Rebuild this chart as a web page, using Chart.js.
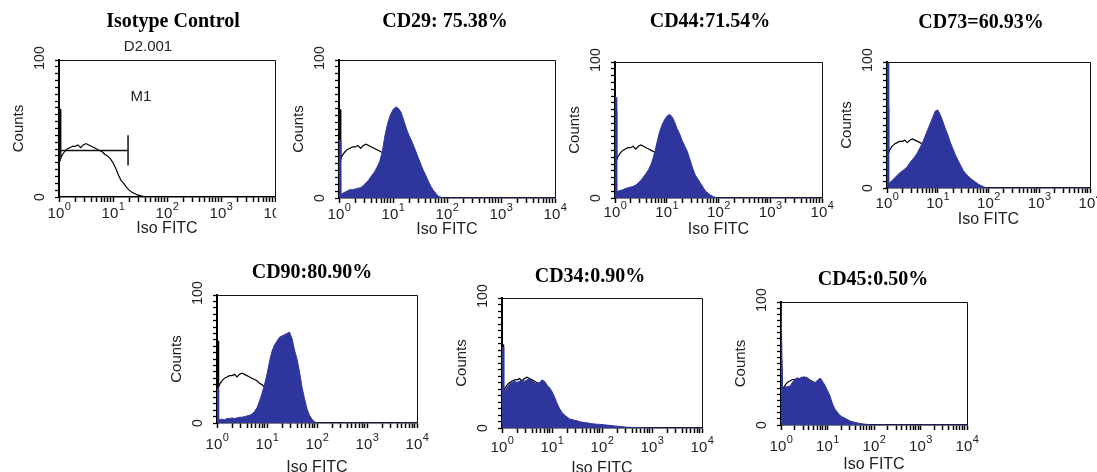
<!DOCTYPE html>
<html>
<head>
<meta charset="utf-8">
<script src="https://cdn.jsdelivr.net/npm/chart.js@4.4.0/dist/chart.umd.min.js"></script>
<style>
    body { margin: 0; background: #fff; width: 1097px; height: 472px; position: relative; overflow: hidden; }
    canvas { position: absolute; }
</style>
</head>
<body>
<script>
// FITC channel bins: the first channel (10^0 .. 1.05), then every 0.05 decade up to 10^2, then the tail
const fitcBins = [1, 1.05, 1.08,
    1.122, 1.259, 1.413, 1.585, 1.778, 1.995, 2.239, 2.512, 2.818, 3.162,
    3.548, 3.981, 4.467, 5.012, 5.623, 6.310, 7.079, 7.943, 8.913, 10,
    11.22, 12.59, 14.13, 15.85, 17.78, 19.95, 22.39, 25.12, 28.18, 31.62,
    35.48, 39.81, 44.67, 50.12, 56.23, 63.10, 70.79, 79.43, 89.13, 100,
    178, 316, 1000, 10000];

// isotype control (black outline, shared by all panels)
const isotype = [64, 64, 28,
    30, 33, 35, 36, 37, 37, 38, 36, 38, 39, 38, 37, 36, 35, 34, 33, 31, 30, 28, 25,
    21, 16, 12, 10, 7, 5, 3.5, 2.5, 1.5, 1, 0.5, 0, 0, 0, 0, 0, 0, 0, 0, 0,
    0, 0, 0, 0];

// stained samples (blue filled)
const cd29 = [42, 42, 2,
    3, 4, 5, 6, 6, 6.5, 7, 7.5, 9, 11, 13, 16, 18.5, 22, 26, 33, 45, 54, 60, 64,
    66, 65, 62, 56, 50, 45, 41, 36, 31, 26, 21, 17, 12.5, 8.5, 5.5, 3, 1, 0.4, 0, 0,
    0, 0, 0, 0];
const cd44 = [74, 74, 4,
    5, 5.5, 6, 7, 7.5, 8, 8.5, 9.5, 11, 13, 15.5, 18, 21, 25, 31, 39, 47, 53, 57, 60,
    61.5, 60, 56, 51, 47, 42, 38, 34, 28, 22, 17, 14, 11, 8, 5, 3.5, 2, 1, 0.3, 0,
    0, 0, 0, 0];
const cd73 = [100, 100, 3,
    4, 6, 8, 10, 12, 13.5, 15, 17, 20, 22.5, 25, 28, 32, 36, 41, 46, 51, 56, 61, 62,
    58, 53, 47, 42, 36, 31, 26, 22, 18, 14, 11.5, 9.5, 7.5, 6, 4.5, 3, 2, 1, 0.3, 0,
    0, 0, 0, 0];
const cd90 = [27, 27, 2,
    2.5, 3, 2.5, 3.5, 3.5, 4, 3.5, 4, 4.5, 4.5, 5, 5.5, 6, 7, 9, 12, 17, 23, 30, 38,
    48, 56, 61, 64, 67, 68, 69, 70, 71, 66, 57, 50, 40, 28, 19, 11, 6, 3, 1, 0,
    0, 0, 0, 0];
const cd34 = [62, 62, 27,
    28, 31, 34, 35, 36, 35, 36, 37, 36, 37, 38, 36, 35, 34, 35, 37, 36, 33, 31, 28,
    24, 19, 15, 12, 10, 8.5, 7, 6.5, 6, 5.5, 5, 4.5, 4.2, 4, 3.6, 3.3, 3.1, 2.9, 2.8, 2.6,
    1.6, 0.6, 0, 0];
const cd45 = [100, 100, 29,
    30, 31, 31, 32, 35, 37, 38, 38, 39, 38, 39, 37, 35, 34, 35, 37, 38, 35, 32, 28,
    24, 18, 13.5, 11, 8.5, 7, 6, 5, 4, 3, 2.5, 2, 1.6, 1.3, 1, 0.7, 0.5, 0.3, 0, 0,
    0, 0, 0, 0];

const panelTitles = ['Isotype Control', 'CD29: 75.38%', 'CD44:71.54%', 'CD73=60.93%',
    'CD90:80.90%', 'CD34:0.90%', 'CD45:0.50%'];
const panelSeries = [null, cd29, cd44, cd73, cd90, cd34, cd45];

// axis ticks
const decadeValues = [1, 10, 100, 1000, 10000];
const decadeExps = ['0', '1', '2', '3', '4'];
const minorSteps = [2, 3, 4, 5, 6, 7, 8, 9];
const countTicks = [0, 100];

// M1 marker of the isotype panel
const m1Range = [1, 19];
const m1Count = 34;
const m1Cap = [23, 45];

// plot boxes on the page: [left, top, right, bottom]
const panelLayout = [
    { box: [59, 60, 275, 197], clipRight: 276, titleAt: [173, 22], tickDy: 17, labelDy: 32 },
    { box: [339, 60, 555, 198], titleAt: [445, 22], tickDy: 17, labelDy: 32 },
    { box: [615, 62, 822, 198], titleAt: [710, 22], tickDy: 15, labelDy: 32 },
    { box: [887, 62, 1090, 188], titleAt: [981, 23], tickDy: 16, labelDy: 32 },
    { box: [217, 295, 417, 423], titleAt: [312, 273], tickDy: 22, labelDy: 45 },
    { box: [502, 298, 702, 428], titleAt: [590, 277], tickDy: 20, labelDy: 41 },
    { box: [781, 302, 967, 425], titleAt: [873, 280], tickDy: 22, labelDy: 40 }
];

const SANS = '"Liberation Sans", Arial, sans-serif';
const SERIF = '"Liberation Serif", "Times New Roman", serif';
const BLUE = 'rgb(46, 54, 158)';
const LEFT_SPACE = 60, TOP_SPACE = 60;

const xTicks = [];
decadeValues.forEach((d, i) => {
    xTicks.push(d);
    if (i < decadeValues.length - 1) minorSteps.forEach(m => xTicks.push(d * m));
});

function toPoints(values) {
    return values.map((v, i) => ({ x: fitcBins[i], y: v }));
}

// draws the frame, tick labels, titles and the panel notes
function makeDecor(idx, canvasLeft, canvasTop, layout) {
    return {
        id: 'facsDecor' + idx,
        afterDraw(chart) {
            const { ctx, chartArea: a, scales } = chart;
            const xs = scales.x, ys = scales.y;
            ctx.save();

            ctx.strokeStyle = '#111';
            ctx.lineWidth = 1;
            ctx.beginPath();
            ctx.moveTo(a.left, a.top + 0.5);
            ctx.lineTo(a.right + 0.5, a.top + 0.5);
            ctx.lineTo(a.right + 0.5, a.bottom);
            ctx.stroke();

            // 10^n labels
            ctx.fillStyle = '#222';
            ctx.textBaseline = 'middle';
            ctx.textAlign = 'left';
            const ty = a.bottom + layout.tickDy;
            decadeValues.forEach((v, i) => {
                const px = xs.getPixelForValue(v);
                ctx.font = '15px ' + SANS;
                const w1 = ctx.measureText('10').width;
                ctx.font = '11px ' + SANS;
                const w2 = ctx.measureText(decadeExps[i]).width;
                const x0 = px - (w1 + w2) / 2;
                ctx.font = '15px ' + SANS;
                ctx.fillText('10', x0, ty);
                ctx.font = '11px ' + SANS;
                ctx.fillText(decadeExps[i], x0 + w1 + 0.5, ty - 7);
            });

            // rotated count labels
            ctx.font = '14px ' + SANS;
            ctx.textAlign = 'center';
            countTicks.forEach(v => {
                const py = ys.getPixelForValue(v) - (v > 0 ? 2 : 0);
                ctx.save();
                ctx.translate(a.left - 18.5, py);
                ctx.rotate(-Math.PI / 2);
                ctx.fillText(String(v), 0, 0);
                ctx.restore();
            });

            // title
            ctx.fillStyle = '#000';
            ctx.font = 'bold 20px ' + SERIF;
            ctx.fillText(panelTitles[idx], layout.titleAt[0] - canvasLeft, layout.titleAt[1] - canvasTop);

            if (idx === 0) {
                ctx.fillStyle = '#222';
                ctx.font = '15px ' + SANS;
                ctx.fillText('D2.001', 148 - canvasLeft, 47 - canvasTop);
                ctx.fillText('M1', xs.getPixelForValue(33), ys.getPixelForValue(73));
            }
            ctx.restore();
        }
    };
}

panelLayout.forEach((layout, idx) => {
    const [l, t, r, b] = layout.box;
    const xh = layout.labelDy + 20;
    const canvasLeft = l - LEFT_SPACE;
    const canvasTop = t - TOP_SPACE;
    const right = layout.clipRight !== undefined ? layout.clipRight : r + 25;
    const width = right - canvasLeft;
    const height = (b - t) + TOP_SPACE + xh;

    const canvas = document.createElement('canvas');
    canvas.width = width;
    canvas.height = height;
    canvas.style.left = canvasLeft + 'px';
    canvas.style.top = canvasTop + 'px';
    canvas.style.width = width + 'px';
    canvas.style.height = height + 'px';
    document.body.appendChild(canvas);

    const datasets = [];
    if (panelSeries[idx]) {
        datasets.push({
            data: toPoints(panelSeries[idx]),
            borderColor: BLUE,
            backgroundColor: BLUE,
            borderWidth: 1,
            fill: 'origin',
            pointRadius: 0,
            tension: 0
        });
    } else {
        datasets.push({
            data: [{ x: m1Range[0], y: m1Count }, { x: m1Range[1], y: m1Count }],
            borderColor: '#111', borderWidth: 1.5, pointRadius: 0, fill: false
        });
        datasets.push({
            data: [{ x: m1Range[1], y: m1Cap[0] }, { x: m1Range[1], y: m1Cap[1] }],
            borderColor: '#111', borderWidth: 1.5, pointRadius: 0, fill: false
        });
    }
    datasets.push({
        data: toPoints(isotype),
        borderColor: '#000',
        borderWidth: 1.2,
        fill: false,
        pointRadius: 0,
        tension: 0
    });

    new Chart(canvas.getContext('2d'), {
        type: 'line',
        data: { datasets: datasets },
        options: {
            responsive: false,
            animation: false,
            devicePixelRatio: 1,
            layout: { padding: { top: TOP_SPACE, right: right - r, left: 0, bottom: 0 } },
            plugins: {
                legend: { display: false },
                tooltip: { enabled: false }
            },
            scales: {
                x: {
                    type: 'logarithmic',
                    min: 1,
                    max: 10000,
                    afterFit: s => { s.height = xh; },
                    afterBuildTicks: s => {
                        s.ticks = xTicks.map(v => ({ value: v, major: decadeValues.includes(v) }));
                    },
                    ticks: { display: false },
                    grid: {
                        drawOnChartArea: false,
                        tickLength: 5,
                        tickColor: '#000',
                        tickWidth: 1.5
                    },
                    border: { color: '#000', width: 1.5 },
                    title: {
                        display: true,
                        text: 'Iso FITC',
                        color: '#222',
                        font: { family: SANS, size: 16 },
                        padding: { top: 0, bottom: xh - layout.labelDy - 9.6 }
                    }
                },
                y: {
                    min: 0,
                    max: 100,
                    afterFit: s => { s.width = LEFT_SPACE; },
                    ticks: { display: false, stepSize: 5 },
                    grid: {
                        drawOnChartArea: false,
                        tickLength: 4,
                        tickColor: '#000',
                        tickWidth: 1.3
                    },
                    border: { color: '#000', width: 2 },
                    title: {
                        display: true,
                        text: 'Counts',
                        color: '#222',
                        font: { family: SANS, size: 15 },
                        padding: { top: 11, bottom: 0 }
                    }
                }
            }
        },
        plugins: [makeDecor(idx, canvasLeft, canvasTop, layout)]
    });
});
</script>
</body>
</html>
